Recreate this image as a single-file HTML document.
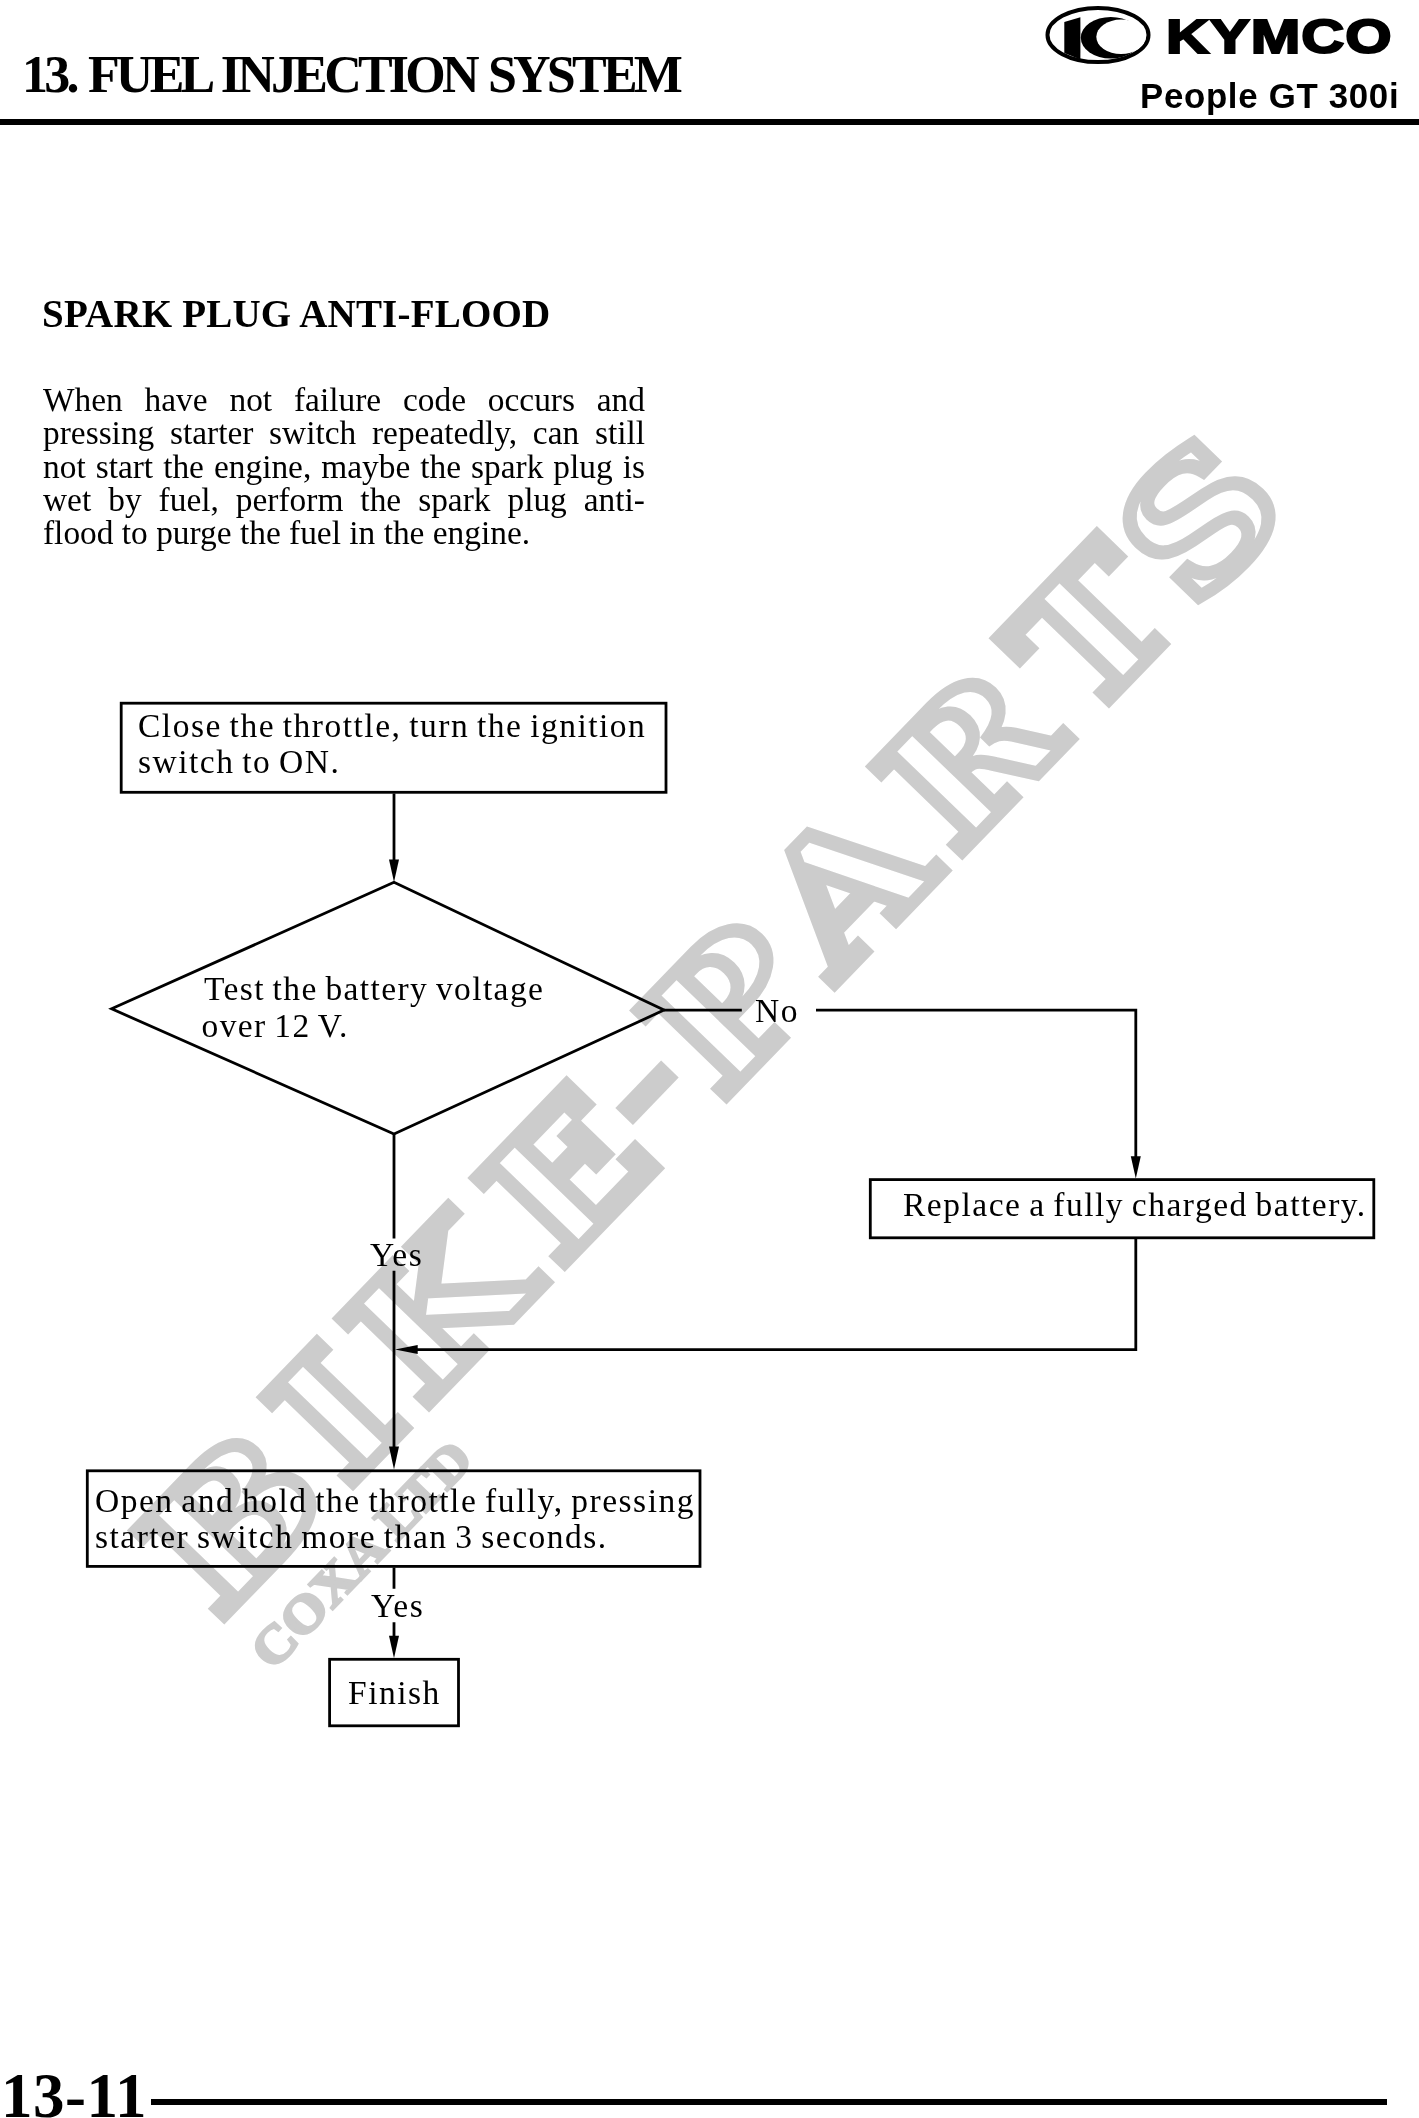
<!DOCTYPE html>
<html><head><meta charset="utf-8"><title>13. FUEL INJECTION SYSTEM</title>
<style>
html,body{margin:0;padding:0;background:#fff;}
body{width:1419px;height:2118px;position:relative;overflow:hidden;font-family:"Liberation Serif",serif;color:#000;}
.abs{position:absolute;white-space:nowrap;}
div.abs{will-change:transform;}
#title{left:21.5px;top:45px;font:bold 52px/60px "Liberation Serif",serif;letter-spacing:-3.78px;word-spacing:3px;}
#hrule{left:0;top:119px;width:1419px;height:5.5px;background:#000;}
#model{left:1140px;top:76px;font:bold 34.8px/40px "Liberation Sans",sans-serif;letter-spacing:0.7px;}
#kymco{left:1165.5px;top:7.5px;font:bold 49px/56px "Liberation Sans",sans-serif;transform-origin:0 0;transform:scaleX(1.215);-webkit-text-stroke:2.2px #000;letter-spacing:0.8px;}
#h2{left:42px;top:292px;font:bold 39px/44px "Liberation Serif",serif;letter-spacing:0.2px;}
#para{left:43px;top:383px;width:602px;font:33.4px/33.3px "Liberation Serif",serif;text-align:justify;white-space:normal;}
.fc{font:33.5px/36px "Liberation Serif",serif;letter-spacing:1.5px;word-spacing:-2.1px;}
#pageno{left:1px;top:2063.5px;font:bold 63px/64px "Liberation Serif",serif;letter-spacing:0.5px;}
#frule{left:151px;top:2098.5px;width:1236px;height:5.5px;background:#000;}
#wm{left:0;top:0;}
</style></head><body>
<!--WMS--><svg class="abs" id="wm" width="1419" height="2118" viewBox="0 0 1419 2118" style="left:0;top:0" font-family='"DejaVu Serif",serif' font-weight="bold">
<g transform="rotate(-46) scale(1.16,1)" font-size="168" stroke="#cccccc" stroke-linejoin="miter" stroke-miterlimit="3">
<text x="-874.6 -714.8 -620.5 -452.0 -324.9 -251.2 -108.1 41.3 200.8 335.8" y="1283.5" fill="#fff" stroke-width="13.0">BIKE<tspan fill="#cccccc" stroke-width="0" font-size="185" x="-328.5" dy="-9.4">-</tspan><tspan dy="9.4">PARTS</tspan></text>
</g>
<text transform="rotate(-46) scale(1.1,1)" x="-921" y="1357" font-size="52" letter-spacing="0" font-family='"Liberation Serif",serif' font-weight="bold" fill="#cccccc" stroke="#cccccc" stroke-width="3">COXA LTD</text>
</svg><!--WME-->
<div class="abs" id="title">13. FUEL INJECTION SYSTEM</div>
<div class="abs" id="hrule"></div>
<svg class="abs" id="logo" style="left:1040px;top:0" width="120" height="72" viewBox="1040 0 120 72">
<ellipse cx="1098" cy="35" rx="50.5" ry="27.1" fill="none" stroke="#000" stroke-width="4"/>
<ellipse cx="1110.8" cy="37.8" rx="30" ry="20.8" fill="#000"/>
<ellipse cx="1121" cy="36.8" rx="24.7" ry="17.2" fill="#fff"/>
<path d="M1064.3 22L1080.4 17.2V59.5L1064.3 53Z" fill="#000"/>
</svg>
<div class="abs" id="kymco">KYMCO</div>
<div class="abs" id="model">People GT 300i</div>
<div class="abs" id="h2">SPARK PLUG ANTI-FLOOD</div>
<div class="abs" id="para">When have not failure code occurs and pressing starter switch repeatedly, can still not start the engine, maybe the spark plug is wet by fuel, perform the spark plug anti-flood to purge the fuel in the engine.</div>
<svg class="abs" id="flow" style="left:0;top:0" width="1419" height="2118" viewBox="0 0 1419 2118" fill="none" stroke="#000" stroke-width="2.8">
<rect x="121.2" y="703.2" width="544.8" height="89.1"/>
<path d="M394 793.5V860"/>
<path d="M111.6 1008.8L394 882.3L664 1010.1L394 1134Z" stroke-linejoin="miter"/>
<path d="M664 1010.1H741.8M816 1010.1H1135.8V1158"/>
<rect x="870.3" y="1179.6" width="503.5" height="58.2"/>
<path d="M1135.8 1239V1349.6H416"/>
<path d="M394 1134V1238.6M394 1270.7V1448"/>
<rect x="87.3" y="1470.8" width="612.7" height="95.6"/>
<path d="M394 1567.5V1588.8M394 1622.3V1637"/>
<rect x="329.6" y="1659.3" width="128.9" height="66.5"/>
<g fill="#000" stroke="none">
<path d="M389 859.5H399L394 882Z"/>
<path d="M1130.8 1156.2H1140.8L1135.8 1178.5Z"/>
<path d="M417.7 1345.1V1354.1L395 1349.6Z"/>
<path d="M389 1446.6H399L394 1469.6Z"/>
<path d="M389 1635.7H399L394 1658.2Z"/>
</g>
</svg>
<div class="abs fc" style="left:137.8px;top:708.4px;line-height:36.2px">Close the throttle, turn the ignition<br>switch to ON.</div>
<div class="abs fc" style="left:204px;top:970.3px;line-height:37px;letter-spacing:1.4px">Test the battery voltage<br><span style="margin-left:-2.5px">over 12 V.</span></div>
<div class="abs fc" style="left:755px;top:992.8px">No</div>
<div class="abs fc" style="left:903.2px;top:1187.2px">Replace a fully charged battery.</div>
<div class="abs fc" style="left:369.5px;top:1236.5px">Yes</div>
<div class="abs fc" style="left:95.2px;top:1482.6px;line-height:35.5px">Open and hold the throttle fully, pressing<br>starter switch more than 3 seconds.</div>
<div class="abs fc" style="left:370.8px;top:1587.5px">Yes</div>
<div class="abs fc" style="left:348.2px;top:1675px">Finish</div>

<div class="abs" id="pageno">13-11</div>
<div class="abs" id="frule"></div>
</body></html>
